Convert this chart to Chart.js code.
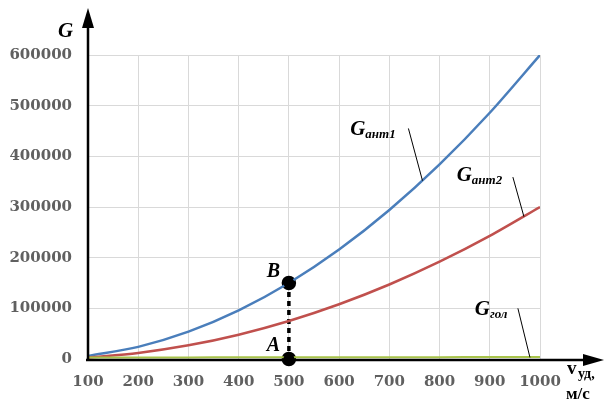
<!DOCTYPE html>
<html>
<head>
<meta charset="utf-8">
<script src="https://cdn.jsdelivr.net/npm/chart.js@4"></script>
<style>
  html, body { margin: 0; padding: 0; background: #fff; }
  #wrap { width: 606px; height: 405px; position: relative; }
</style>
</head>
<body>
<div id="wrap"><canvas id="c" width="606" height="405"></canvas></div>
<script>
/* data */
const speeds = [100, 200, 300, 400, 500, 600, 700, 800, 900, 1000];
const gAnt1 = [6000, 24000, 54000, 96000, 150000, 216000, 294000, 384000, 486000, 600000];
const gAnt2 = [3000, 12000, 27000, 48000, 75000, 108000, 147000, 192000, 243000, 300000];
const gGol = [3000, 3100, 3200, 3300, 3400, 3500, 3600, 3700, 3800, 3900];
const markX = [500, 500];
const markY = [150000, 0];

/* labels: text anchor (data units) and leader from/to (data units) */
const curveLabels = [
  { main: "G", sub: "ант1", x: 622, y: 442000, tipFrom: [738, 455000], tipX: 766, tipY: 352000 },
  { main: "G", sub: "ант2", x: 834, y: 351000, tipFrom: [946, 359000], tipX: 968, tipY: 281000 },
  { main: "G", sub: "гол", x: 870, y: 87000, tipFrom: [956, 100000], tipX: 980, tipY: 3000 }
];
const pointLabels = [
  { text: "B", x: 456, y: 162000 },
  { text: "A", x: 456, y: 15000 }
];

const SERIF = '"Liberation Serif", "Times New Roman", serif';
const TICKFONT = '"DejaVu Serif", serif';

const toXY = (xs, ys) => xs.map((x, i) => ({ x: x, y: ys[i] }));

/* axes arrows + text */
const decor = {
  id: "decor",
  afterDatasetsDraw(chart) {
    const ctx = chart.ctx;
    const xs = chart.scales.x, ys = chart.scales.y;
    const x0 = xs.left, y0 = ys.bottom;

    ctx.save();
    ctx.strokeStyle = "#000";
    ctx.fillStyle = "#000";
    ctx.lineWidth = 2.5;
    // y axis
    ctx.beginPath();
    ctx.moveTo(x0, y0 + 2);
    ctx.lineTo(x0, 26);
    ctx.stroke();
    ctx.beginPath();
    ctx.moveTo(x0, 8);
    ctx.lineTo(x0 - 6, 28);
    ctx.lineTo(x0 + 6, 28);
    ctx.closePath();
    ctx.fill();
    // x axis
    ctx.beginPath();
    ctx.moveTo(x0 - 2, y0 + 1);
    ctx.lineTo(586, y0 + 1);
    ctx.stroke();
    ctx.beginPath();
    ctx.moveTo(604, y0 + 1);
    ctx.lineTo(583, y0 - 5);
    ctx.lineTo(583, y0 + 7);
    ctx.closePath();
    ctx.fill();

    // axis titles
    ctx.font = "bold italic 21px " + SERIF;
    ctx.textBaseline = "alphabetic";
    ctx.textAlign = "left";
    ctx.fillText("G", 58, 37);

    ctx.font = "bold 19px " + SERIF;
    ctx.fillText("v", 567, 374);
    ctx.font = "bold 14px " + SERIF;
    ctx.fillText("уд,", 578, 378);
    ctx.font = "bold 17px " + SERIF;
    ctx.fillText("м/с", 566, 399);

    // curve labels with leaders
    curveLabels.forEach(l => {
      const px = xs.getPixelForValue(l.x), py = ys.getPixelForValue(l.y);
      ctx.font = "bold italic 21px " + SERIF;
      ctx.fillText(l.main, px, py);
      const w = ctx.measureText(l.main).width;
      ctx.font = "bold italic 13px " + SERIF;
      ctx.fillText(l.sub, px + w, py + 3);
      ctx.lineWidth = 1;
      ctx.beginPath();
      ctx.moveTo(xs.getPixelForValue(l.tipFrom[0]), ys.getPixelForValue(l.tipFrom[1]));
      ctx.lineTo(xs.getPixelForValue(l.tipX), ys.getPixelForValue(l.tipY));
      ctx.stroke();
    });

    ctx.font = "bold italic 20px " + SERIF;
    pointLabels.forEach(l => {
      ctx.fillText(l.text, xs.getPixelForValue(l.x), ys.getPixelForValue(l.y));
    });

    // marker dots on top of the axis
    const m = chart.getDatasetMeta(3);
    m.data.forEach(p => {
      ctx.beginPath();
      ctx.arc(p.x, p.y, 5.5, 0, Math.PI * 2);
      ctx.fill();
    });
    ctx.restore();
  }
};

const chart = new Chart(document.getElementById("c").getContext("2d"), {
  type: "line",
  data: {
    datasets: [
      { data: toXY(speeds, gGol), borderColor: "#a8c44a", borderWidth: 2, pointRadius: 0, tension: 0.3 },
      { data: toXY(speeds, gAnt2), borderColor: "#c0504d", borderWidth: 2.5, pointRadius: 0, tension: 0.3 },
      { data: toXY(speeds, gAnt1), borderColor: "#4a7ebb", borderWidth: 2.5, pointRadius: 0, tension: 0.3 },
      { data: toXY(markX, markY), borderColor: "#000", borderWidth: 3.5, borderDash: [5, 4],
        pointRadius: 5.5, pointBackgroundColor: "#000", pointBorderColor: "#000", clip: false }
    ]
  },
  options: {
    responsive: false,
    animation: false,
    events: [],
    layout: { padding: { top: 55, right: 66, left: 0, bottom: 0 } },
    plugins: { legend: { display: false }, tooltip: { enabled: false } },
    scales: {
      x: {
        type: "linear",
        min: 100, max: 1000,
        afterBuildTicks: s => { s.ticks = speeds.map(v => ({ value: v })); },
        afterFit: s => { s.height = 46; },
        grid: { color: "#d9d9d9", lineWidth: 1, drawTicks: false },
        border: { display: false },
        ticks: { padding: 14, color: "#606060", callback: v => String(v),
          font: { family: TICKFONT, size: 15, weight: "bold" } }
      },
      y: {
        min: 0, max: 600000,
        ticks: { stepSize: 100000, padding: 16, color: "#606060",
          font: { family: TICKFONT, size: 15, weight: "bold" }, callback: v => String(v) },
        afterFit: s => { s.width = 88; },
        grid: { color: "#d9d9d9", lineWidth: 1, drawTicks: false },
        border: { display: false }
      }
    }
  },
  plugins: [decor]
});
</script>
</body>
</html>
